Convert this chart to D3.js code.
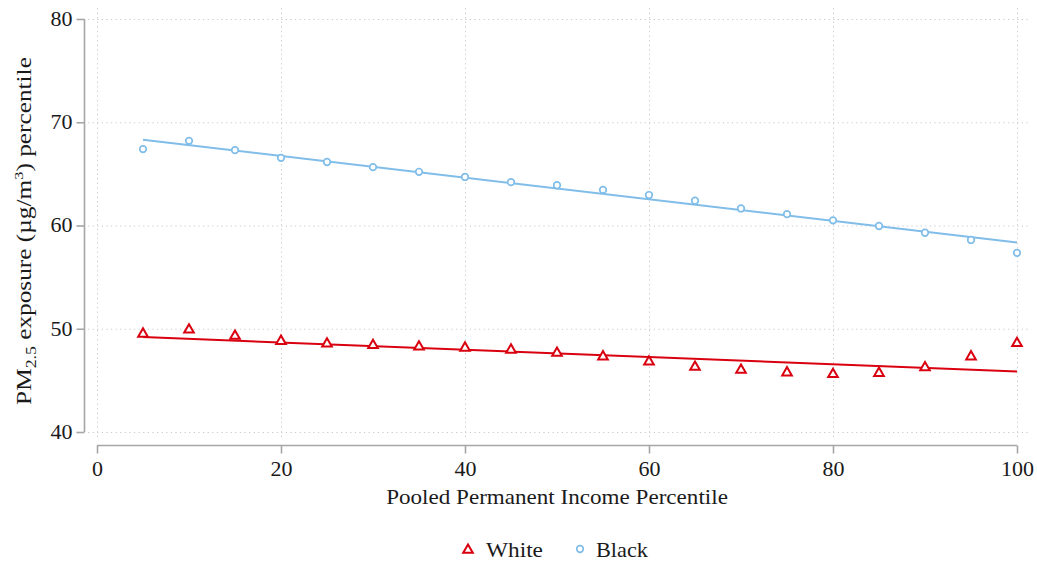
<!DOCTYPE html>
<html>
<head>
<meta charset="utf-8">
<script src="https://cdn.jsdelivr.net/npm/d3@7/dist/d3.min.js"></script>
<style>
  html, body { margin: 0; padding: 0; background: #fff; }
  svg { display: block; }
  text { font-family: "Liberation Serif", "DejaVu Serif", serif; fill: #1a1a1a; }
</style>
</head>
<body>
<svg id="chart" width="1037" height="562"></svg>
<script>
// Income percentiles (x) shared by both groups
const percentiles = [5, 10, 15, 20, 25, 30, 35, 40, 45, 50, 55, 60, 65, 70, 75, 80, 85, 90, 95, 100];

// Mean PM2.5 exposure percentile by income percentile
const whiteValues = [49.5, 49.9, 49.3, 48.8, 48.55, 48.4, 48.25, 48.15, 47.95, 47.65,
                     47.3, 46.8, 46.3, 46.0, 45.75, 45.6, 45.7, 46.25, 47.3, 48.6];
const blackValues = [67.4, 68.2, 67.3, 66.55, 66.15, 65.65, 65.2, 64.7, 64.2, 63.9,
                     63.45, 62.95, 62.4, 61.65, 61.1, 60.5, 59.95, 59.3, 58.6, 57.35];

// Linear fit endpoints (x = 5 and x = 100)
const whiteFit = [[5, 49.2], [100, 45.85]];
const blackFit = [[5, 68.3], [100, 58.35]];

const xTicks = [0, 20, 40, 60, 80, 100];
const yTicks = [40, 50, 60, 70, 80];

const colors = { white: "#d9000f", black: "#80bde8" };

const svg = d3.select("#chart");

const x = d3.scaleLinear().domain([0, 100]).range([97, 1017]);
const y = d3.scaleLinear().domain([40, 80]).range([432, 19]);

// Plot region bounds used by the grid
const gx0 = 88, gx1 = 1028, gy0 = 8, gy1 = 440;

// Stretch a text horizontally (in its own frame) to a given width
function widen(sel, width, base) {
  const w = sel.node().getComputedTextLength();
  sel.attr("transform", `${base} scale(${width / w},1)`);
}

// Dotted grid
const grid = svg.append("g").attr("stroke", "#c8c8c8").attr("stroke-width", 1)
  .attr("stroke-dasharray", "1.2,3.4");
grid.selectAll("line.h").data(yTicks).join("line")
  .attr("x1", gx0).attr("x2", gx1)
  .attr("y1", d => y(d) + 0.5).attr("y2", d => y(d) + 0.5);
grid.selectAll("line.v").data(xTicks).join("line")
  .attr("y1", gy0).attr("y2", gy1)
  .attr("x1", d => x(d) + 0.5).attr("x2", d => x(d) + 0.5);

// Y axis (offset to the left of the plot region)
const yAxis = svg.append("g").attr("transform", "translate(84.5,0)")
  .call(d3.axisLeft(y).tickValues(yTicks).tickSize(8).tickPadding(4));
// X axis (offset below the plot region)
const xAxis = svg.append("g").attr("transform", "translate(0,445.5)")
  .call(d3.axisBottom(x).tickValues(xTicks).tickSize(8).tickPadding(8));

[yAxis, xAxis].forEach(a => {
  a.select(".domain").attr("stroke", "#a6a6a6").attr("stroke-width", 1.6);
  a.selectAll(".tick line").attr("stroke", "#a6a6a6").attr("stroke-width", 1.6);
  a.selectAll(".tick text").attr("font-family", "Liberation Serif, serif")
    .attr("font-size", 20).attr("fill", "#1a1a1a");
});
// keep domains without outer end ticks
yAxis.select(".domain").attr("d", `M0,${y(80)}V${y(40)}`);
xAxis.select(".domain").attr("d", `M${x(0)},0H${x(100)}`);
// slightly wider numerals
yAxis.selectAll(".tick text").attr("transform", "translate(-12,0) scale(1.1,1) translate(12,0)");
xAxis.selectAll(".tick text").attr("transform", "scale(1.1,1)");

// Fit lines
const line = d3.line().x(d => x(d[0])).y(d => y(d[1]));
svg.append("path").datum(blackFit).attr("d", line)
  .attr("fill", "none").attr("stroke", colors.black).attr("stroke-width", 2);
svg.append("path").datum(whiteFit).attr("d", line)
  .attr("fill", "none").attr("stroke", colors.white).attr("stroke-width", 2);

// Markers
const tri = d3.symbol().type(d3.symbolTriangle).size(40);
function drawTriangles(g, data) {
  g.selectAll("path").data(data).join("path")
    .attr("d", tri)
    .attr("transform", d => `translate(${x(d[0])},${y(d[1])})`)
    .attr("fill", "#fff").attr("stroke", colors.white).attr("stroke-width", 2);
}
function drawCircles(g, data) {
  g.selectAll("circle").data(data).join("circle")
    .attr("cx", d => x(d[0])).attr("cy", d => y(d[1])).attr("r", 3.3)
    .attr("fill", "#fff").attr("stroke", colors.black).attr("stroke-width", 1.7);
}
drawCircles(svg.append("g"), percentiles.map((p, i) => [p, blackValues[i]]));
drawTriangles(svg.append("g"), percentiles.map((p, i) => [p, whiteValues[i]]));

// Axis titles
const xt = svg.append("text")
  .attr("text-anchor", "middle").attr("font-size", 20)
  .text("Pooled Permanent Income Percentile");
widen(xt, 342, "translate(557,504)");

const yt = svg.append("text")
  .attr("text-anchor", "middle").attr("font-size", 20);
yt.append("tspan").text("PM");
yt.append("tspan").attr("font-size", 14).attr("dy", 5).text("2.5");
yt.append("tspan").attr("dy", -5).text(" exposure (\u00b5g/m");
yt.append("tspan").attr("font-size", 13).attr("dy", -8).text("3");
yt.append("tspan").attr("dy", 8).text(") percentile");
widen(yt, 348, "translate(31,231) rotate(-90)");

// Legend
const legend = svg.append("g");
legend.append("path").attr("d", tri)
  .attr("transform", "translate(468,550)")
  .attr("fill", "#fff").attr("stroke", colors.white).attr("stroke-width", 2);
const lw = legend.append("text").attr("font-size", 20).text("White");
widen(lw, 57, "translate(486,557)");
legend.append("circle").attr("cx", 580).attr("cy", 549).attr("r", 3.3)
  .attr("fill", "#fff").attr("stroke", colors.black).attr("stroke-width", 1.7);
const lb = legend.append("text").attr("font-size", 20).text("Black");
widen(lb, 52, "translate(596,557)");
</script>
</body>
</html>
